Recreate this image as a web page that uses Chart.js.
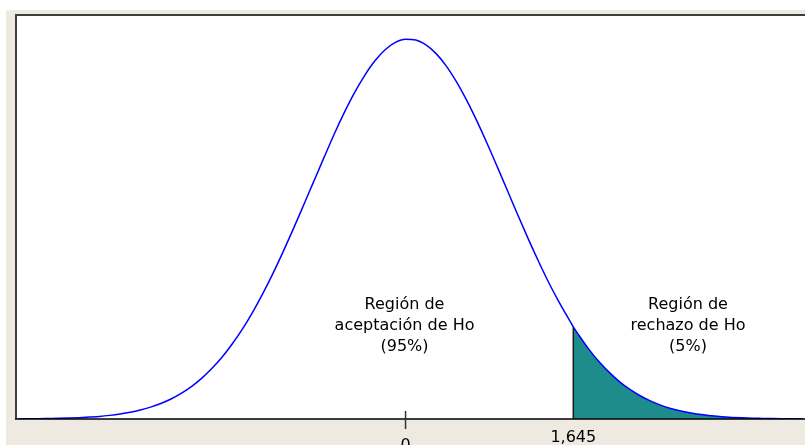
<!DOCTYPE html>
<html>
<head>
<meta charset="utf-8">
<script src="https://cdn.jsdelivr.net/npm/chart.js@4"></script>
<style>
  html, body { margin: 0; padding: 0; background: #ffffff; }
  #wrap { width: 805px; height: 445px; }
</style>
</head>
<body>
<div id="wrap"><canvas id="c" width="805" height="445"></canvas></div>
<script>
// Curve (x in z units, y = density height)
const xValues = [-3.8,-3.7,-3.6,-3.5,-3.4,-3.3,-3.2,-3.1,-3.0,-2.9,-2.8,-2.7,-2.6,-2.5,-2.4,-2.3,-2.2,-2.1,-2.0,-1.9,-1.8,-1.7,-1.6,-1.5,-1.4,-1.3,-1.2,-1.1,-1.0,-0.9,-0.8,-0.7,-0.6,-0.5,-0.4,-0.3,-0.2,-0.1,0.0,0.1,0.2,0.3,0.4,0.5,0.6,0.7,0.8,0.9,1.0,1.1,1.2,1.3,1.4,1.5,1.6,1.645,1.7,1.8,1.9,2.0,2.1,2.2,2.3,2.4,2.5,2.6,2.7,2.8,2.9,3.0,3.1,3.2,3.3,3.4,3.5,3.6,3.7,3.8,3.9];
const density = [0.0001,0.0002,0.0003,0.0005,0.0007,0.0010,0.0014,0.0020,0.0027,0.0038,0.0052,0.0070,0.0094,0.0125,0.0163,0.0210,0.0269,0.0340,0.0426,0.0529,0.0648,0.0787,0.0943,0.1120,0.1315,0.1528,0.1757,0.1995,0.2244,0.2494,0.2743,0.2989,0.3218,0.3426,0.3607,0.3760,0.3876,0.3953,0.3987,0.3979,0.3927,0.3835,0.3704,0.3538,0.3344,0.3126,0.2892,0.2646,0.2396,0.2143,0.1898,0.1664,0.1441,0.1238,0.1050,0.0967,0.0879,0.0728,0.0598,0.0487,0.0390,0.0310,0.0244,0.0190,0.0146,0.0111,0.0084,0.0063,0.0046,0.0034,0.0024,0.0017,0.0012,0.0008,0.0006,0.0004,0.0003,0.0002,0.0001];
const criticalValue = 1.645;
const tickValues = [0, 1.645];
const tickLabels = ["0", "1,645"];
const acceptLines = ["Región de", "aceptación de Ho", "(95%)"];
const rejectLines = ["Región de", "rechazo de Ho", "(5%)"];

const curvePts = xValues.map((x, i) => ({ x: x, y: density[i] }));
const rejectPts = curvePts.filter(p => p.x >= criticalValue);
const critIdx = xValues.indexOf(criticalValue);
const critLine = [{ x: criticalValue, y: 0 }, { x: criticalValue, y: density[critIdx] }];

const decor = {
  id: 'decor',
  beforeDraw(chart) {
    const { ctx, chartArea: a, width, height } = chart;
    ctx.save();
    ctx.fillStyle = '#ffffff';
    ctx.fillRect(0, 0, width, height);
    ctx.fillStyle = '#EEEAE2';
    ctx.fillRect(6, 10, width - 6, height - 10);
    ctx.fillStyle = '#ffffff';
    ctx.fillRect(a.left, a.top, a.right - a.left, a.bottom - a.top);
    ctx.restore();
  },
  afterDraw(chart) {
    const { ctx, chartArea: a, scales } = chart;
    const xs = scales.x, ys = scales.y;
    ctx.save();
    // frame top/left
    ctx.strokeStyle = '#3f3f3f';
    ctx.lineWidth = 2;
    ctx.beginPath();
    ctx.moveTo(a.left - 1, a.bottom);
    ctx.lineTo(a.left - 1, a.top - 1);
    ctx.lineTo(a.right, a.top - 1);
    ctx.stroke();
    // x axis line
    ctx.strokeStyle = '#000000';
    ctx.lineWidth = 1.5;
    ctx.beginPath();
    ctx.moveTo(a.left - 2, a.bottom);
    ctx.lineTo(a.right, a.bottom);
    ctx.stroke();
    // tick at 0
    const x0 = xs.getPixelForValue(tickValues[0]);
    ctx.strokeStyle = '#333333';
    ctx.lineWidth = 1.5;
    ctx.beginPath();
    ctx.moveTo(x0, a.bottom - 8);
    ctx.lineTo(x0, a.bottom + 10);
    ctx.stroke();
    // tick labels
    ctx.fillStyle = '#000000';
    ctx.font = '16px "DejaVu Sans"';
    ctx.textAlign = 'center';
    ctx.textBaseline = 'alphabetic';
    ctx.fillText(tickLabels[0], x0, a.bottom + 31);
    ctx.fillText(tickLabels[1], xs.getPixelForValue(tickValues[1]), a.bottom + 23);
    // region texts
    ctx.textBaseline = 'middle';
    const lineY = [0.1195, 0.0975, 0.0755].map(v => ys.getPixelForValue(v));
    const ax = xs.getPixelForValue(-0.01);
    const rx = xs.getPixelForValue(2.77);
    acceptLines.forEach((t, i) => ctx.fillText(t, ax, lineY[i]));
    rejectLines.forEach((t, i) => ctx.fillText(t, rx, lineY[i]));
    ctx.restore();
  }
};

new Chart(document.getElementById('c'), {
  type: 'line',
  data: {
    datasets: [
      {
        label: 'curve',
        data: curvePts,
        borderColor: '#0000FF',
        borderWidth: 1.5,
        pointRadius: 0,
        cubicInterpolationMode: 'monotone',
        fill: false,
        order: 0
      },
      {
        label: 'critical',
        data: critLine,
        borderColor: '#1a1a1a',
        borderWidth: 1.5,
        pointRadius: 0,
        fill: false,
        order: 1
      },
      {
        label: 'reject',
        data: rejectPts,
        borderWidth: 0,
        borderColor: 'rgba(0,0,0,0)',
        backgroundColor: '#1E8C8A',
        pointRadius: 0,
        cubicInterpolationMode: 'monotone',
        fill: 'origin',
        order: 2
      }
    ]
  },
  options: {
    responsive: false,
    animation: false,
    devicePixelRatio: 1,
    layout: { padding: { left: 17, top: 16, right: 0, bottom: 26 } },
    plugins: { legend: { display: false }, tooltip: { enabled: false } },
    scales: {
      x: { type: 'linear', min: -3.81, max: 3.917, display: false },
      y: { type: 'linear', min: 0, max: 0.423, display: false }
    }
  },
  plugins: [decor]
});
</script>
</body>
</html>
